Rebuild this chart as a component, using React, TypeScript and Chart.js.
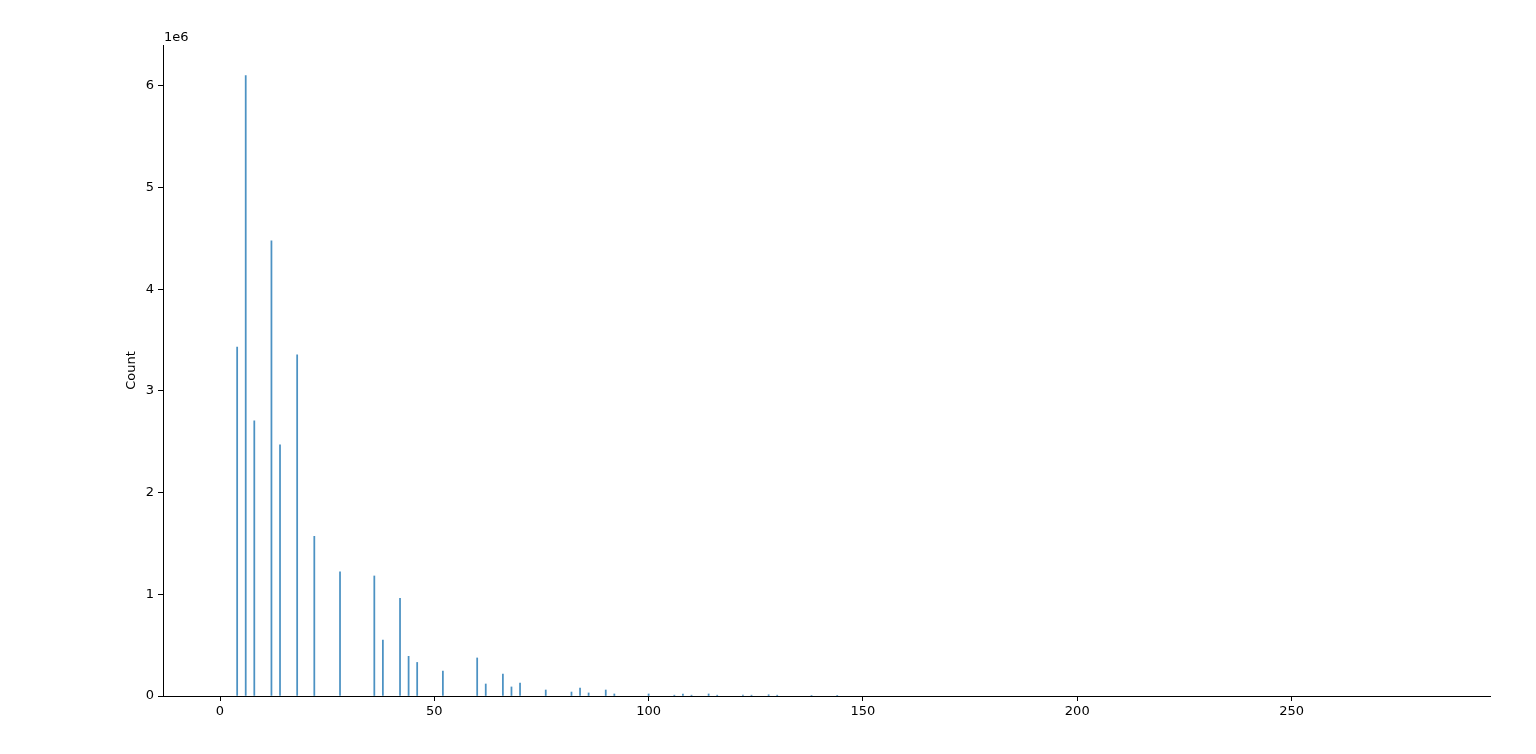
import React, { useEffect, useRef } from "react";
import { Chart, registerables } from "chart.js";

Chart.register(...registerables);

// Bin positions (value) and counts
const binValues = [4, 6, 8, 12, 14, 18, 22, 28, 36, 38, 42, 44, 46, 52, 60, 62, 66, 68, 70, 76, 82, 84, 86, 90, 92, 100, 106, 108, 110, 114, 116, 122, 124, 128, 130, 138, 144];
const binCounts = [3430000, 6100000, 2705000, 4475000, 2470000, 3354000, 1570000, 1220000, 1180000, 550000, 960000, 390000, 330000, 245000, 374000, 118000, 216000, 89000, 128000, 59000, 39000, 79000, 30000, 59000, 20000, 20000, 8000, 20000, 8000, 20000, 8000, 8000, 8000, 12000, 8000, 6000, 6000];

const xTicks = [0, 50, 100, 150, 200, 250];
const yTicks = [0, 1000000, 2000000, 3000000, 4000000, 5000000, 6000000];
const yLabel = "Count";
const yOffsetText = "1e6";

export default function App() {
  const ref = useRef<HTMLCanvasElement | null>(null);

  useEffect(() => {
    if (!ref.current) return;
    const font = { family: "DejaVu Sans", size: 13 };
    const offsetPlugin = {
      id: "offsetText",
      afterDraw(chart: any) {
        const { ctx, chartArea } = chart;
        ctx.save();
        ctx.font = "13px DejaVu Sans";
        ctx.fillStyle = "#000";
        ctx.textAlign = "left";
        ctx.textBaseline = "alphabetic";
        ctx.fillText(yOffsetText, chartArea.left + 1, chartArea.top - 4);
        ctx.restore();
      },
    };
    const chart = new Chart(ref.current, {
      type: "bar",
      data: {
        datasets: [
          {
            data: binValues.map((v, i) => ({ x: v, y: binCounts[i] })),
            backgroundColor: "rgba(31,119,180,0.8)",
            borderWidth: 0,
            barThickness: 1.1,
          },
        ],
      },
      options: {
        animation: false,
        responsive: true,
        maintainAspectRatio: false,
        layout: { padding: { left: 121, right: 46, top: 45, bottom: 0 } },
        plugins: { legend: { display: false }, tooltip: { enabled: false } },
        scales: {
          x: {
            type: "linear",
            offset: false,
            min: -13.3,
            max: 296.3,
            grid: { display: true, drawOnChartArea: false, drawTicks: true, tickLength: 5, color: "#000", offset: false },
            border: { display: true, color: "#000", width: 1 },
            ticks: { font, color: "#000", padding: 3, maxRotation: 0 },
            afterBuildTicks: (scale: any) => {
              scale.ticks = xTicks.map((v) => ({ value: v }));
            },
            afterFit: (scale: any) => {
              scale.height = 58;
            },
          },
          y: {
            type: "linear",
            min: 0,
            max: 6400000,
            grid: { display: true, drawOnChartArea: false, drawTicks: true, tickLength: 5, color: "#000" },
            border: { display: true, color: "#000", width: 1 },
            ticks: {
              font,
              color: "#000",
              padding: 4,
              callback: (v: any) => String(Math.round(Number(v) / 1000000)),
            },
            afterBuildTicks: (scale: any) => {
              scale.ticks = yTicks.map((v) => ({ value: v }));
            },
            afterFit: (scale: any) => {
              scale.width = 42;
            },
            title: { display: true, text: yLabel, font, color: "#000", padding: { top: 3, bottom: 0 } },
          },
        },
      },
      plugins: [offsetPlugin],
    });
    return () => chart.destroy();
  }, []);

  return (
    <div style={{ position: "absolute", left: 0, top: 0, width: 1536, height: 754, background: "#fff" }}>
      <canvas ref={ref} />
    </div>
  );
}
